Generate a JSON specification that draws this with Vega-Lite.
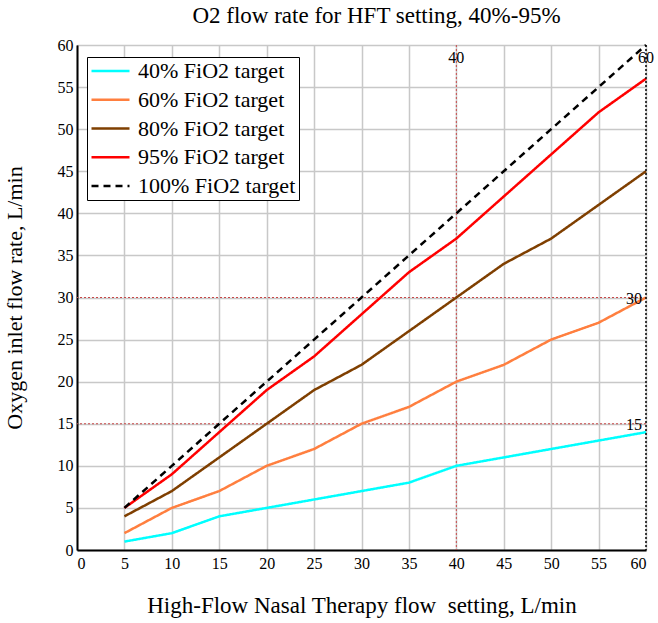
{
  "$schema": "https://vega.github.io/schema/vega-lite/v6.json",
  "width": 569,
  "height": 505,
  "autosize": "none",
  "padding": {"left": 77, "top": 45, "right": 12, "bottom": 73},
  "background": "white",
  "config": {
    "font": "Liberation Serif",
    "view": {"stroke": "black", "strokeWidth": 1},
    "axis": {"labelFont": "Liberation Serif", "titleFont": "Liberation Serif", "labelColor": "black", "titleColor": "black", "titleFontWeight": "normal", "gridColor": "#c8c8c8", "gridWidth": 1.5, "domainColor": "black", "domainWidth": 2, "ticks": false}
  },
  "title": {"text": "O2 flow rate for HFT setting, 40%-95%", "font": "Liberation Serif", "fontSize": 23, "fontWeight": "normal", "color": "black", "offset": 9, "dx": 15},
  "datasets": {
    "lines": [
      {"x": 5, "y": 1, "s": "40% FiO2 target"}, {"x": 10, "y": 2, "s": "40% FiO2 target"}, {"x": 15, "y": 4, "s": "40% FiO2 target"}, {"x": 20, "y": 5, "s": "40% FiO2 target"}, {"x": 25, "y": 6, "s": "40% FiO2 target"}, {"x": 30, "y": 7, "s": "40% FiO2 target"}, {"x": 35, "y": 8, "s": "40% FiO2 target"}, {"x": 40, "y": 10, "s": "40% FiO2 target"}, {"x": 45, "y": 11, "s": "40% FiO2 target"}, {"x": 50, "y": 12, "s": "40% FiO2 target"}, {"x": 55, "y": 13, "s": "40% FiO2 target"}, {"x": 60, "y": 14, "s": "40% FiO2 target"},
      {"x": 5, "y": 2, "s": "60% FiO2 target"}, {"x": 10, "y": 5, "s": "60% FiO2 target"}, {"x": 15, "y": 7, "s": "60% FiO2 target"}, {"x": 20, "y": 10, "s": "60% FiO2 target"}, {"x": 25, "y": 12, "s": "60% FiO2 target"}, {"x": 30, "y": 15, "s": "60% FiO2 target"}, {"x": 35, "y": 17, "s": "60% FiO2 target"}, {"x": 40, "y": 20, "s": "60% FiO2 target"}, {"x": 45, "y": 22, "s": "60% FiO2 target"}, {"x": 50, "y": 25, "s": "60% FiO2 target"}, {"x": 55, "y": 27, "s": "60% FiO2 target"}, {"x": 60, "y": 30, "s": "60% FiO2 target"},
      {"x": 5, "y": 4, "s": "80% FiO2 target"}, {"x": 10, "y": 7, "s": "80% FiO2 target"}, {"x": 15, "y": 11, "s": "80% FiO2 target"}, {"x": 20, "y": 15, "s": "80% FiO2 target"}, {"x": 25, "y": 19, "s": "80% FiO2 target"}, {"x": 30, "y": 22, "s": "80% FiO2 target"}, {"x": 35, "y": 26, "s": "80% FiO2 target"}, {"x": 40, "y": 30, "s": "80% FiO2 target"}, {"x": 45, "y": 34, "s": "80% FiO2 target"}, {"x": 50, "y": 37, "s": "80% FiO2 target"}, {"x": 55, "y": 41, "s": "80% FiO2 target"}, {"x": 60, "y": 45, "s": "80% FiO2 target"},
      {"x": 5, "y": 5, "s": "95% FiO2 target"}, {"x": 10, "y": 9, "s": "95% FiO2 target"}, {"x": 15, "y": 14, "s": "95% FiO2 target"}, {"x": 20, "y": 19, "s": "95% FiO2 target"}, {"x": 25, "y": 23, "s": "95% FiO2 target"}, {"x": 30, "y": 28, "s": "95% FiO2 target"}, {"x": 35, "y": 33, "s": "95% FiO2 target"}, {"x": 40, "y": 37, "s": "95% FiO2 target"}, {"x": 45, "y": 42, "s": "95% FiO2 target"}, {"x": 50, "y": 47, "s": "95% FiO2 target"}, {"x": 55, "y": 52, "s": "95% FiO2 target"}, {"x": 60, "y": 56, "s": "95% FiO2 target"},
      {"x": 5, "y": 5, "s": "100% FiO2 target"}, {"x": 10, "y": 10, "s": "100% FiO2 target"}, {"x": 15, "y": 15, "s": "100% FiO2 target"}, {"x": 20, "y": 20, "s": "100% FiO2 target"}, {"x": 25, "y": 25, "s": "100% FiO2 target"}, {"x": 30, "y": 30, "s": "100% FiO2 target"}, {"x": 35, "y": 35, "s": "100% FiO2 target"}, {"x": 40, "y": 40, "s": "100% FiO2 target"}, {"x": 45, "y": 45, "s": "100% FiO2 target"}, {"x": 50, "y": 50, "s": "100% FiO2 target"}, {"x": 55, "y": 55, "s": "100% FiO2 target"}, {"x": 60, "y": 60, "s": "100% FiO2 target"}
    ],
    "vred": [{"x": 40}],
    "vblack": [{"x": 60}],
    "hrefs": [{"y": 15}, {"y": 30}],
    "toplabels": [
      {"x": 40, "y": 60, "t": "40"},
      {"x": 60, "y": 60, "t": "60"}
    ],
    "sidelabels": [
      {"x": 60, "y": 30, "t": "30"},
      {"x": 60, "y": 15, "t": "15"}
    ]
  },
  "layer": [
    {
      "data": {"name": "hrefs"},
      "mark": {"type": "rule", "strokeDash": [2, 2], "strokeWidth": 1, "stroke": "#c84848"},
      "encoding": {
        "y": {"field": "y", "type": "quantitative", "scale": {"domain": [0, 60], "nice": false}}
      }
    },
    {
      "data": {"name": "vred"},
      "mark": {"type": "rule", "strokeDash": [2, 2], "strokeWidth": 1, "stroke": "#c84848"},
      "encoding": {
        "x": {"field": "x", "type": "quantitative", "scale": {"domain": [0, 60], "nice": false}}
      }
    },
    {
      "data": {"name": "lines"},
      "mark": {"type": "line", "strokeWidth": 2.5},
      "encoding": {
        "x": {"field": "x", "type": "quantitative", "scale": {"domain": [0, 60], "nice": false},
          "axis": {"values": [0,5,10,15,20,25,30,35,40,45,50,55,60], "title": "High-Flow Nasal Therapy flow\u00a0 setting, L/min", "labelFontSize": 16, "titleFontSize": 23, "labelPadding": 5, "titlePadding": 23, "labelAngle": 0}},
        "y": {"field": "y", "type": "quantitative", "scale": {"domain": [0, 60], "nice": false},
          "axis": {"values": [0,5,10,15,20,25,30,35,40,45,50,55,60], "title": "Oxygen inlet flow rate, L/min", "labelFontSize": 16, "titleFontSize": 22, "labelPadding": 4, "titlePadding": 31}},
        "color": {"field": "s", "type": "nominal",
          "scale": {"domain": ["40% FiO2 target", "60% FiO2 target", "80% FiO2 target", "95% FiO2 target", "100% FiO2 target"], "range": ["#00ffff", "#ff7f3f", "#7f3f00", "#ff0000", "#000000"]},
          "legend": {"title": null, "orient": "none", "legendX": 10, "legendY": 12, "strokeColor": "black", "fillColor": "white", "padding": 3, "labelFont": "Liberation Serif", "labelFontSize": 22, "labelColor": "black", "symbolType": "stroke", "symbolSize": 1444, "symbolStrokeWidth": 2.5, "clipHeight": 22, "rowPadding": 6.75, "labelOffset": 7, "labelLimit": 400}},
        "strokeDash": {"field": "s", "type": "nominal",
          "scale": {"domain": ["40% FiO2 target", "60% FiO2 target", "80% FiO2 target", "95% FiO2 target", "100% FiO2 target"], "range": [[1, 0], [1, 0], [1, 0], [1, 0], [7, 5]]},
          "legend": {"title": null, "orient": "none", "legendX": 10, "legendY": 12}},
        "order": {"field": "x", "type": "quantitative"}
      }
    },
    {
      "data": {"name": "vblack"},
      "mark": {"type": "rule", "strokeDash": [2, 2], "strokeWidth": 1.5, "stroke": "black"},
      "encoding": {
        "x": {"field": "x", "type": "quantitative"}
      }
    },
    {
      "data": {"name": "toplabels"},
      "mark": {"type": "text", "fontSize": 16, "font": "Liberation Serif", "color": "black", "baseline": "middle", "align": "center", "dy": 13, "dx": 0},
      "encoding": {
        "x": {"field": "x", "type": "quantitative"},
        "y": {"field": "y", "type": "quantitative"},
        "text": {"field": "t"}
      }
    },
    {
      "data": {"name": "sidelabels"},
      "mark": {"type": "text", "fontSize": 16, "font": "Liberation Serif", "color": "black", "baseline": "middle", "align": "right", "dx": -4, "dy": 1},
      "encoding": {
        "x": {"field": "x", "type": "quantitative"},
        "y": {"field": "y", "type": "quantitative"},
        "text": {"field": "t"}
      }
    }
  ]
}
